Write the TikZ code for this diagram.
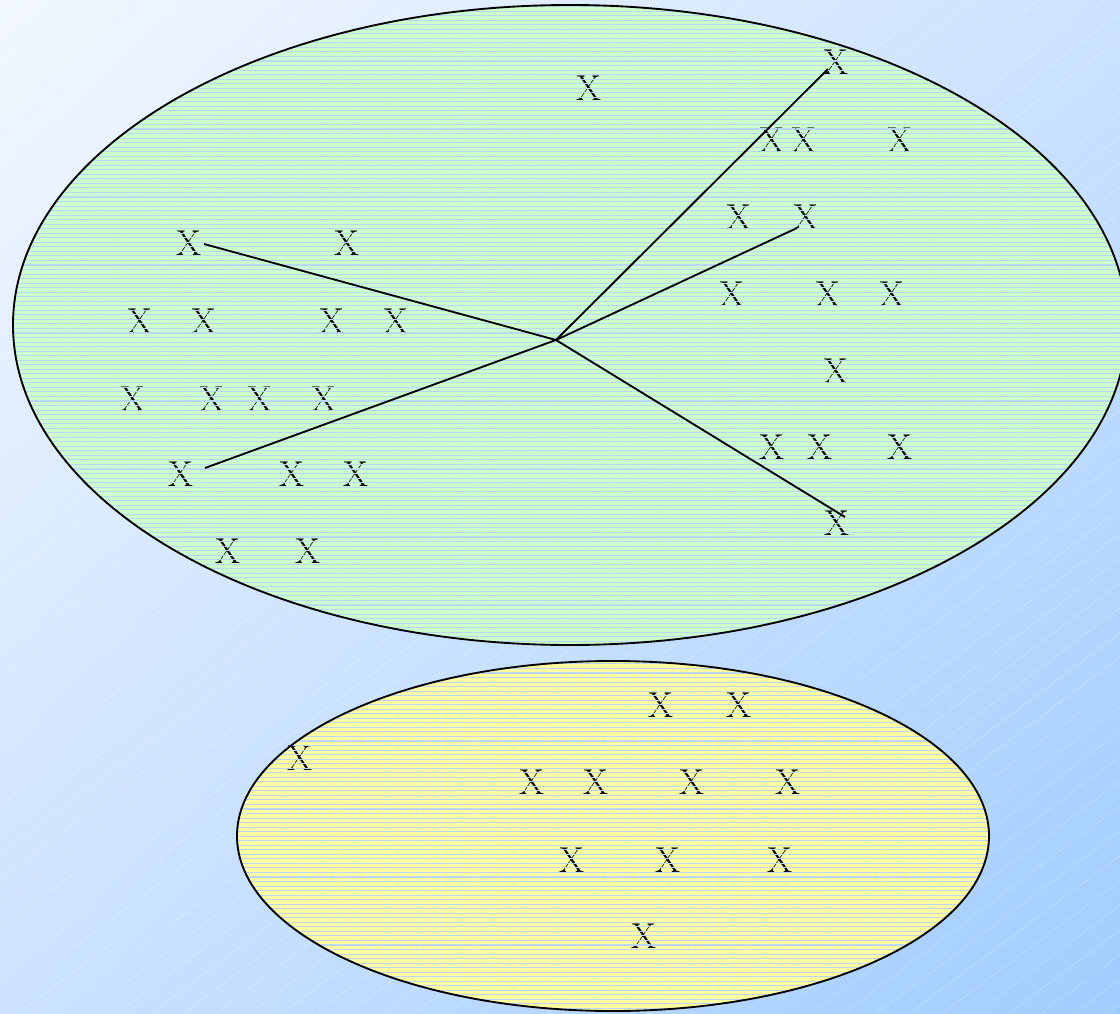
\documentclass[tikz,border=0pt]{standalone}
\definecolor{bgtop}{RGB}{242,247,255}
\definecolor{bgmid}{RGB}{204,226,255}
\definecolor{bgbot}{RGB}{160,205,255}
\definecolor{leaf}{RGB}{204,255,204}
\definecolor{lemon}{RGB}{255,255,160}
\definecolor{stripe}{RGB}{185,215,252}
\usepackage{tikz}
\usetikzlibrary{calc,patterns.meta,shadings}
\tikzset{
  xmark/.style={inner sep=0pt, font=\fontsize{27}{27}\selectfont, text=black},
  zone/.style={draw=black, line width=1.4pt},
  ray/.style={black, line width=1.4pt},
  stripes/.style={pattern={Lines[angle=0, distance=3.4pt, line width=0.8pt]}, pattern color=stripe},
}

\begin{document}
\begin{tikzpicture}[x=0.75pt, y=-0.75pt]
  \useasboundingbox (0,0) rectangle (1120,1013);
  % background
  \shade[upper left=bgtop, upper right=bgmid, lower left=bgmid, lower right=bgbot] (0,0) rectangle (1120,1013);
  \begin{scope}
    \clip (0,0) rectangle (1120,1013);
    \foreach \s in {0,33,...,2600}
      \draw[white, opacity=0.3, line width=0.4pt] (\s-1400,1013) -- ++(1400,-1050);
  \end{scope}
  % the two sets
  \fill[leaf]  (570,325) ellipse [x radius=557, y radius=320];
  \fill[lemon] (613,836) ellipse [x radius=376, y radius=175];
  % green set
  \node[xmark] (gtop) at (836,62)  {X};
  \node[xmark] (g1)   at (589,88)  {X};
  \node[xmark] (g2)   at (772,140) {X};
  \node[xmark] (g3)   at (804,140) {X};
  \node[xmark] (g4)   at (900,140) {X};
  \node[xmark] (g5)   at (739,217) {X};
  \node[xmark] (gr2)  at (806,217) {X};
  \node[xmark] (gl1)  at (189,243) {X};
  \node[xmark] (g6)   at (347,243) {X};
  \node[xmark] (g7)   at (140,321) {X};
  \node[xmark] (g8)   at (204,321) {X};
  \node[xmark] (g9)   at (332,321) {X};
  \node[xmark] (g10)  at (396,321) {X};
  \node[xmark] (g11)  at (732,294) {X};
  \node[xmark] (g12)  at (828,294) {X};
  \node[xmark] (g13)  at (892,294) {X};
  \node[xmark] (g14)  at (836,371) {X};
  \node[xmark] (g15)  at (133,399) {X};
  \node[xmark] (g16)  at (212,399) {X};
  \node[xmark] (g17)  at (260,399) {X};
  \node[xmark] (g18)  at (324,399) {X};
  \node[xmark] (g19)  at (772,447) {X};
  \node[xmark] (g20)  at (820,447) {X};
  \node[xmark] (g21)  at (900,447) {X};
  \node[xmark] (gl4)  at (181,474) {X};
  \node[xmark] (g22)  at (292,474) {X};
  \node[xmark] (g23)  at (356,474) {X};
  \node[xmark] (gbot) at (837,523) {X};
  \node[xmark] (g24)  at (228,551) {X};
  \node[xmark] (g25)  at (308,551) {X};
  % yellow set
  \node[xmark] (y1)  at (661,705) {X};
  \node[xmark] (y2)  at (739,705) {X};
  \node[xmark] (y3)  at (300,758) {X};
  \node[xmark] (y4)  at (532,782) {X};
  \node[xmark] (y5)  at (596,782) {X};
  \node[xmark] (y6)  at (692,782) {X};
  \node[xmark] (y7)  at (788,782) {X};
  \node[xmark] (y8)  at (572,860) {X};
  \node[xmark] (y9)  at (668,860) {X};
  \node[xmark] (y10) at (780,860) {X};
  \node[xmark] (y11) at (644,936) {X};
  % stripes over the fill
  \fill[stripes] (570,325) ellipse [x radius=557, y radius=320];
  \fill[stripes] (613,836) ellipse [x radius=376, y radius=175];
  % rays
  \coordinate (hub) at (556,340);
  \draw[ray] (hub) -- ($(gtop)+(-8,7)$);
  \draw[ray] (hub) -- ($(gr2)+(-9,11)$);
  \draw[ray] (hub) -- ($(gl1)+(15,1)$);
  \draw[ray] (hub) -- ($(gl4)+(24,-6)$);
  \draw[ray] (hub) -- ($(gbot)+(8,-6)$);
  % outlines
  \draw[zone] (570,325) ellipse [x radius=557, y radius=320];
  \draw[zone] (613,836) ellipse [x radius=376, y radius=175];
\end{tikzpicture}
\end{document}
